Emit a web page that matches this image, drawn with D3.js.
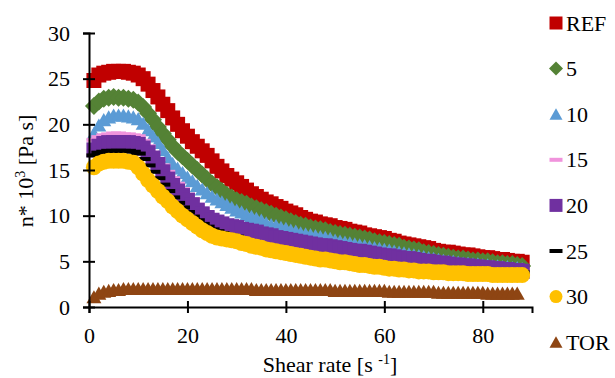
<!DOCTYPE html>
<html><head><meta charset="utf-8">
<script src="https://cdn.jsdelivr.net/npm/d3@7"></script>
</head><body style="margin:0">
<svg id="c" width="615" height="378" font-family="Liberation Serif" style="display:block">
<style>text{font-family:"Liberation Serif" !important;}</style>
</svg>
<script>
const shearRate = [1,2,3,4,5,6,7,8,9,10,11,12,13,14,15,16,17,18,19,20,21,22,23,24,25,26,27,28,29,30,31,32,33,34,35,36,37,38,39,40,41,42,43,44,45,46,47,48,49,50,51,52,53,54,55,56,57,58,59,60,61,62,63,64,65,66,67,68,69,70,71,72,73,74,75,76,77,78,79,80,81,82,83,84,85,86,87,88];
const seriesNames = ["REF","5","10","15","20","25","30","TOR"];
const refValues = [24.8,25.4,25.6,25.7,25.8,25.8,25.8,25.7,25.6,25.4,25.0,24.4,23.7,23.0,22.2,21.5,20.7,20.0,19.3,18.7,18.1,17.6,17.1,16.6,16.0,15.4,14.9,14.4,14.0,13.6,13.2,12.8,12.4,12.1,11.8,11.5,11.3,11.0,10.8,10.5,10.3,10.1,9.8,9.6,9.4,9.3,9.1,9.0,8.9,8.7,8.6,8.5,8.3,8.2,8.1,7.9,7.8,7.7,7.6,7.5,7.3,7.2,7.0,6.9,6.8,6.7,6.6,6.5,6.4,6.2,6.1,6.0,6.0,5.9,5.8,5.7,5.7,5.6,5.5,5.4,5.4,5.3,5.2,5.2,5.1,5.0,5.0,4.9];
const s5Values = [22.0,22.5,22.8,22.9,23.0,22.9,22.9,22.8,22.7,22.4,21.9,21.2,20.5,19.7,19.0,18.3,17.6,17.0,16.5,16.0,15.5,15.0,14.5,14.0,13.5,13.1,12.7,12.3,12.0,11.7,11.5,11.3,11.0,10.8,10.6,10.4,10.2,10.0,9.8,9.6,9.4,9.2,9.0,8.9,8.7,8.6,8.5,8.4,8.2,8.1,8.0,7.9,7.8,7.7,7.6,7.5,7.4,7.2,7.1,7.0,6.9,6.8,6.7,6.5,6.4,6.3,6.2,6.0,5.9,5.8,5.7,5.6,5.5,5.4,5.3,5.3,5.2,5.1,5.1,5.0,5.0,4.9,4.8,4.8,4.7,4.7,4.6,4.5];
const s10Values = [19.0,19.9,20.5,20.8,21.0,21.0,21.0,20.9,20.8,20.6,20.1,19.4,18.7,18.0,17.2,16.4,15.7,15.2,14.7,14.2,13.8,13.3,12.9,12.5,12.1,11.8,11.5,11.2,10.9,10.6,10.4,10.1,9.9,9.7,9.5,9.2,9.0,8.9,8.7,8.6,8.4,8.3,8.1,8.0,7.9,7.8,7.7,7.6,7.5,7.3,7.2,7.1,7.0,6.9,6.8,6.7,6.6,6.5,6.4,6.3,6.2,6.1,6.0,5.9,5.8,5.7,5.6,5.5,5.4,5.3,5.2,5.1,5.0,5.0,4.9,4.8,4.8,4.7,4.7,4.6,4.6,4.5,4.5,4.4,4.4,4.3,4.3,4.2];
const s15Values = [18.3,18.6,18.8,18.9,19.0,19.0,18.9,18.9,18.8,18.7,18.2,17.6,16.9,16.2,15.5,14.8,14.1,13.5,12.9,12.3,11.8,11.2,10.7,10.3,9.9,9.6,9.3,9.1,8.9,8.7,8.7,8.6,8.5,8.4,8.2,8.1,8.0,7.8,7.7,7.6,7.5,7.4,7.3,7.2,7.1,7.0,6.9,6.9,6.8,6.7,6.6,6.5,6.4,6.3,6.3,6.2,6.1,6.0,5.9,5.8,5.8,5.7,5.6,5.5,5.5,5.4,5.3,5.2,5.2,5.1,5.0,5.0,4.9,4.8,4.8,4.7,4.7,4.6,4.6,4.5,4.5,4.4,4.4,4.3,4.3,4.2,4.2,4.1];
const s20Values = [17.2,17.6,17.9,18.0,18.0,18.0,18.0,18.0,17.9,17.8,17.4,16.9,16.3,15.6,14.8,14.0,13.3,12.7,12.2,11.7,11.2,10.6,10.2,9.8,9.5,9.3,9.1,8.9,8.8,8.7,8.5,8.4,8.3,8.2,8.0,7.9,7.8,7.6,7.5,7.4,7.3,7.2,7.1,7.0,6.9,6.8,6.7,6.7,6.6,6.5,6.4,6.3,6.2,6.1,6.1,6.0,5.9,5.8,5.7,5.6,5.6,5.5,5.4,5.3,5.3,5.2,5.1,5.0,5.0,4.9,4.8,4.8,4.7,4.6,4.6,4.5,4.5,4.4,4.4,4.3,4.3,4.2,4.2,4.1,4.1,4.0,4.0,3.9];
const s25Values = [16.6,16.9,17.0,17.1,17.1,17.1,17.1,17.1,17.0,16.8,16.2,15.5,14.8,14.1,13.4,12.7,12.0,11.4,10.9,10.4,9.9,9.5,9.1,8.8,8.5,8.3,8.1,7.9,7.8,7.7,7.3,7.2,7.0,6.9,6.8,6.6,6.5,6.4,6.3,6.2,6.1,6.0,5.9,5.8,5.7,5.6,5.5,5.5,5.4,5.3,5.2,5.2,5.1,5.0,4.9,4.9,4.8,4.7,4.7,4.6,4.5,4.5,4.4,4.4,4.3,4.3,4.2,4.2,4.2,4.1,4.1,4.1,4.0,4.0,4.0,4.0,3.9,3.9,3.9,3.9,3.9,3.8,3.8,3.8,3.8,3.8,3.8,3.8];
const s30Values = [15.3,15.7,15.9,16.0,16.0,16.0,16.0,15.9,15.8,15.3,14.6,13.9,13.3,12.7,12.1,11.6,11.0,10.5,10.0,9.6,9.2,8.8,8.4,8.1,7.8,7.6,7.5,7.4,7.3,7.2,7.0,6.9,6.7,6.6,6.5,6.3,6.2,6.1,6.0,5.9,5.8,5.7,5.6,5.5,5.4,5.3,5.2,5.2,5.1,5.0,4.9,4.9,4.8,4.7,4.6,4.6,4.5,4.4,4.4,4.3,4.2,4.2,4.1,4.1,4.0,4.0,3.9,3.9,3.9,3.8,3.8,3.8,3.7,3.7,3.7,3.7,3.6,3.6,3.6,3.6,3.6,3.5,3.5,3.5,3.5,3.5,3.5,3.5];
const torValues = [1.1,1.5,1.7,1.8,1.9,1.9,2.0,2.0,2.0,2.0,2.0,2.0,2.0,2.0,2.0,2.0,2.0,2.0,2.0,2.0,2.0,2.0,2.0,2.0,2.0,2.0,2.0,2.0,2.0,2.0,2.0,2.0,2.0,1.9,1.9,1.9,1.9,1.9,1.9,1.9,1.9,1.9,1.9,1.9,1.9,1.9,1.9,1.9,1.9,1.8,1.8,1.8,1.8,1.8,1.8,1.8,1.8,1.8,1.8,1.8,1.7,1.7,1.7,1.7,1.7,1.7,1.7,1.7,1.7,1.7,1.6,1.6,1.6,1.6,1.6,1.6,1.6,1.6,1.6,1.6,1.5,1.5,1.5,1.5,1.5,1.5,1.5];
const xTicks = [0,20,40,60,80];
const yTicks = [0,5,10,15,20,25,30];

const seriesValues = [refValues,s5Values,s10Values,s15Values,s20Values,s25Values,s30Values,torValues];
const colors = ["#C00000","#548235","#5B9BD5","#F093DC","#7030A0","#000000","#FFC000","#8E4513"];
const shapes = ["square","diamond","triangle","dash","square","dash","circle","triangle"];
const plotSize = {square:15,diamond:18,triangle:15,dash:15,circle:16};
const legSize = {square:13,diamond:14,triangle:13,dash:13,circle:13};

function markerPath(type, s){
  const h = s/2;
  switch(type){
    case "square": return `M${-h},${-h}h${s}v${s}h${-s}Z`;
    case "diamond": return `M0,${-h}L${h},0L0,${h}L${-h},0Z`;
    case "triangle": return `M0,${-h*0.9}L${h},${h*0.85}L${-h},${h*0.85}Z`;
    case "dash": return `M${-h},-2h${s}v4h${-s}Z`;
    case "circle": return d3.symbol(d3.symbolCircle, Math.PI*h*h)();
  }
}

const FF = "Liberation Serif";
const FS = 22;
const svg = d3.select("#c");
svg.insert("rect", ":first-child").attr("width",615).attr("height",378).attr("fill","#fff");

const x = d3.scaleLinear().domain([0,90]).range([89,532]);
const y = d3.scaleLinear().domain([0,30]).range([307,33]);

const marksLayer = svg.append("g");
const textLayer = svg.append("g").attr("font-family",FF).attr("font-size",FS);

// axis titles & legend text first
const xt = textLayer.append("text").attr("x",330).attr("y",372).attr("text-anchor","middle").attr("fill","#000");
xt.append("tspan").text("Shear rate [s ");
xt.append("tspan").attr("dy",-8).attr("font-size",14).text("-1");
xt.append("tspan").attr("dy",8).text("]");

const yt = textLayer.append("text").attr("transform","translate(33,171) rotate(-90)").attr("text-anchor","middle").attr("fill","#000");
yt.append("tspan").text("n* 10");
yt.append("tspan").attr("dy",-8).attr("font-size",14).text("3");
yt.append("tspan").attr("dy",8).text(" [Pa s]");

seriesNames.forEach((name,i)=>{
  const cy = 23 + i*45.6;
  textLayer.append("path").attr("d", markerPath(shapes[i], legSize[shapes[i]]))
    .attr("transform",`translate(556,${cy})`).attr("fill",colors[i]);
  textLayer.append("text").attr("x",566).attr("y",cy+7.5).text(name).attr("fill","#000");
});

seriesNames.forEach((name,i)=>{
  const vals = seriesValues[i];
  const pts = vals.map((v,j)=>({x:shearRate[j], y:v}));
  const d = markerPath(shapes[i], plotSize[shapes[i]]);
  marksLayer.append("g").selectAll("path").data(pts).join("path")
    .attr("d", d)
    .attr("transform", p=>`translate(${x(p.x)},${y(p.y)})`)
    .attr("fill", colors[i]);
});

const xAxis = textLayer.append("g").attr("transform","translate(0,307)")
  .call(d3.axisBottom(x).tickValues(xTicks).tickSizeOuter(0).tickSize(6).tickFormat(d3.format("d")));
xAxis.attr("font-family",FF).attr("font-size",FS);
xAxis.select(".domain").attr("stroke","#000").attr("stroke-width",2);
xAxis.selectAll(".tick line").attr("y1",-6).attr("y2",6).attr("stroke","#000").attr("stroke-width",2);
xAxis.selectAll(".tick text").attr("y",null).attr("dy",null).attr("transform","translate(0,36)").attr("fill","#000");

const yAxis = textLayer.append("g").attr("transform","translate(89,0)")
  .call(d3.axisLeft(y).tickValues(yTicks).tickSizeOuter(0).tickSize(6).tickFormat(d3.format("d")));
yAxis.attr("font-family",FF).attr("font-size",FS);
yAxis.select(".domain").attr("stroke","#000").attr("stroke-width",2);
yAxis.selectAll(".tick line").attr("x1",-6).attr("x2",6).attr("stroke","#000").attr("stroke-width",2);
yAxis.selectAll(".tick text").attr("x",-19).attr("dy","0.33em").attr("fill","#000");
</script></body></html>
